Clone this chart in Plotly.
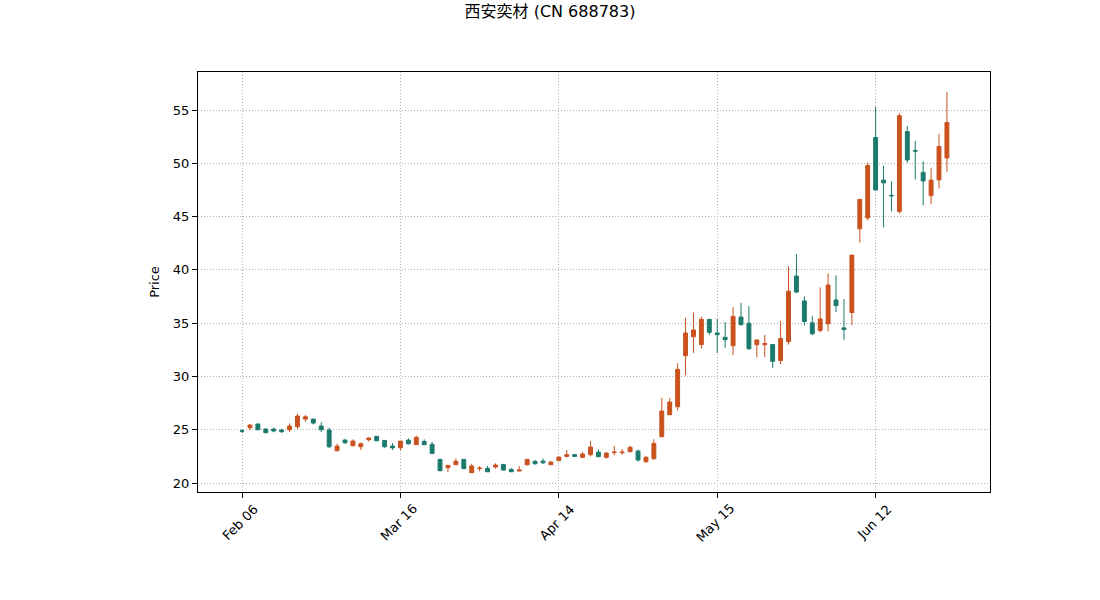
import plotly.graph_objects as go

# Trading-day index (0..89) and OHLC values
opens = [24.90, 25.19, 25.54, 25.07, 25.07, 24.97, 25.00, 25.28, 26.00, 26.00,
         25.35, 24.97, 23.03, 24.03, 23.50, 23.41, 24.06, 24.38, 24.00, 23.47,
         23.31, 24.03, 23.60, 23.90, 23.63, 22.22, 21.44, 21.72, 22.22, 20.97,
         21.36, 21.38, 21.50, 21.75, 21.28, 21.13, 21.72, 22.04, 22.06, 21.72,
         22.10, 22.50, 22.66, 22.41, 22.66, 22.90, 22.41, 22.85, 22.85, 22.94,
         23.00, 22.00, 22.28, 24.35, 26.41, 27.16, 31.95, 33.73, 33.00, 35.36,
         34.08, 33.67, 32.88, 35.58, 35.00, 32.98, 32.98, 33.00, 31.51, 33.26,
         39.42, 37.09, 35.03, 34.31, 34.94, 37.18, 34.56, 36.00, 43.85, 44.88,
         52.42, 48.42, 47.00, 45.47, 52.98, 51.20, 49.16, 46.96, 48.45, 50.50]
highs = [25.05, 25.54, 25.56, 25.12, 25.20, 25.10, 25.60, 26.50, 26.40, 26.02,
         25.70, 25.20, 23.70, 24.15, 24.10, 23.80, 24.30, 24.40, 24.02, 23.75,
         23.95, 24.20, 24.45, 24.10, 23.85, 22.30, 21.68, 22.30, 22.24, 21.80,
         21.60, 21.60, 21.85, 21.77, 21.40, 21.60, 22.24, 22.15, 22.30, 22.06,
         22.46, 23.10, 22.75, 22.90, 23.96, 23.15, 22.90, 23.50, 23.20, 23.50,
         23.15, 22.55, 24.10, 28.00, 28.00, 31.24, 35.50, 36.00, 35.60, 35.40,
         35.40, 35.10, 36.50, 36.90, 36.60, 33.45, 33.90, 33.02, 35.20, 40.36,
         41.48, 37.52, 35.65, 38.36, 39.67, 39.49, 37.27, 41.40, 46.64, 50.08,
         55.31, 49.78, 48.32, 54.72, 53.50, 52.11, 50.19, 49.60, 52.76, 56.68]
lows = [24.70, 24.95, 24.98, 24.70, 24.76, 24.70, 24.80, 25.10, 25.75, 25.50,
        24.80, 23.30, 22.98, 23.70, 23.45, 23.10, 23.90, 23.96, 23.30, 23.10,
        23.10, 23.60, 23.58, 23.58, 22.76, 21.10, 21.00, 21.70, 21.33, 20.95,
        21.10, 21.04, 21.35, 21.20, 21.04, 21.11, 21.65, 21.72, 21.80, 21.70,
        22.08, 22.40, 22.48, 22.39, 22.50, 22.45, 22.30, 22.60, 22.65, 22.92,
        22.00, 21.90, 22.20, 24.30, 26.39, 26.81, 30.10, 32.20, 32.60, 33.90,
        32.20, 32.70, 32.00, 34.78, 32.50, 31.80, 31.80, 30.80, 31.15, 32.99,
        37.80, 34.78, 33.90, 34.13, 34.25, 36.03, 33.44, 34.81, 42.57, 44.63,
        47.45, 44.00, 45.50, 45.30, 50.06, 48.48, 46.06, 46.15, 47.64, 49.22]
closes = [24.86, 25.44, 25.00, 24.72, 24.88, 24.82, 25.35, 26.29, 26.22, 25.63,
          25.00, 23.40, 23.47, 23.78, 23.94, 23.69, 24.22, 23.97, 23.41, 23.31,
          23.94, 23.69, 24.29, 23.60, 22.78, 21.16, 21.66, 22.04, 21.35, 21.60,
          21.40, 21.06, 21.69, 21.22, 21.06, 21.22, 22.22, 21.81, 21.90, 21.97,
          22.44, 22.66, 22.50, 22.72, 23.38, 22.47, 22.81, 22.90, 22.90, 23.35,
          22.16, 22.41, 23.72, 26.76, 27.60, 30.67, 34.08, 34.36, 35.36, 34.14,
          33.92, 33.45, 35.64, 34.86, 32.60, 33.42, 33.10, 31.42, 33.57, 38.00,
          37.93, 35.16, 34.00, 35.40, 38.58, 36.65, 34.41, 41.39, 46.62, 49.80,
          47.50, 48.17, 46.95, 54.47, 50.31, 51.15, 48.35, 48.42, 51.58, 53.82]
day_index = list(range(len(opens)))

tick_index = [0, 20, 40, 60, 80]
tick_labels = ["Feb 06", "Mar 16", "Apr 14", "May 15", "Jun 12"]
y_ticks = [20, 25, 30, 35, 40, 45, 50, 55]

UP = "#c9521f"
DOWN = "#1c7a6c"
FONT = "DejaVu Sans, Noto Sans CJK SC, sans-serif"
GRID = "#b0b0b0"

fig = go.Figure(go.Candlestick(
    x=day_index, open=opens, high=highs, low=lows, close=closes,
    increasing=dict(line=dict(color=UP, width=1), fillcolor=UP),
    decreasing=dict(line=dict(color=DOWN, width=1), fillcolor=DOWN),
    whiskerwidth=0, showlegend=False,
))

for ti, tl in zip(tick_index, tick_labels):
    fig.add_annotation(x=ti, xref="x", y=0, yref="paper", text=tl,
                       showarrow=False, textangle=-45, xanchor="center",
                       yanchor="middle", yshift=-30, xshift=-2,
                       font=dict(family=FONT, size=13, color="black"))

fig.update_layout(
    width=1100, height=600,
    margin=dict(l=198, r=110, t=72, b=108),
    paper_bgcolor="white", plot_bgcolor="white",
    boxgap=0.3,
    title=dict(text="西安奕材 (CN 688783)", x=0.5, xanchor="center",
               y=1 - 11 / 600, yanchor="middle", yref="container",
               font=dict(family=FONT, size=16, color="black")),
    font=dict(family=FONT, size=13, color="black"),
    xaxis=dict(range=[-5.56, 94.44], tickvals=tick_index,
               ticktext=["" for _ in tick_labels],
               showgrid=True, gridcolor=GRID, griddash="1px,2px", gridwidth=1,
               showline=True, linecolor="black", linewidth=1, mirror=True,
               ticks="outside", ticklen=5, tickcolor="black",
               zeroline=False, rangeslider=dict(visible=False)),
    yaxis=dict(range=[19.16, 58.57], tickvals=y_ticks,
               title=dict(text="Price", standoff=10,
                          font=dict(family=FONT, size=13)),
               showgrid=True, gridcolor=GRID, griddash="1px,2px", gridwidth=1,
               showline=True, linecolor="black", linewidth=1, mirror=True,
               ticks="outside", ticklen=5, tickcolor="black",
               zeroline=False, tickfont=dict(family=FONT, size=13)),
)

fig.write_html("out.html")
